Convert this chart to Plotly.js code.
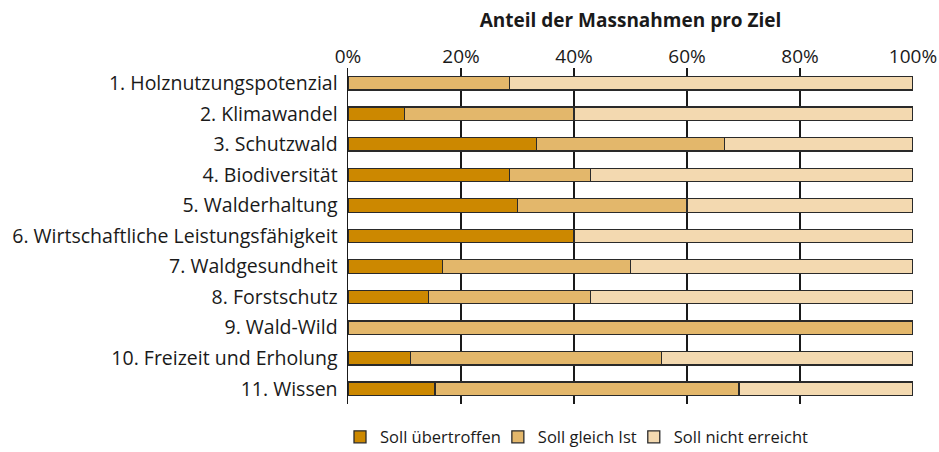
<!DOCTYPE html>
<html>
<head>
<meta charset="utf-8">
<script src="https://cdn.plot.ly/plotly-3.0.1.min.js"></script>
<style>html,body{margin:0;padding:0;background:#fff;}#chart{width:939px;height:452px;}</style>
</head>
<body>
<div id="chart"></div>
<script>
const categories = [
  "1. Holznutzungspotenzial",
  "2. Klimawandel",
  "3. Schutzwald",
  "4. Biodiversität",
  "5. Walderhaltung",
  "6. Wirtschaftliche Leistungsfähigkeit",
  "7. Waldgesundheit",
  "8. Forstschutz",
  "9. Wald-Wild",
  "10. Freizeit und Erholung",
  "11. Wissen"
];
const sollUebertroffen = [0, 10, 33.3, 28.6, 30, 40, 16.7, 14.3, 0, 11.1, 15.4];
const sollGleichIst    = [28.6, 30, 33.3, 14.3, 30, 0, 33.3, 28.6, 100, 44.4, 53.8];
const sollNichtErreicht= [71.4, 60, 33.4, 57.1, 40, 60, 50, 57.1, 0, 44.5, 30.8];
const seriesNames = ["Soll übertroffen", "Soll gleich Ist", "Soll nicht erreicht"];
const tickValues = [0, 20, 40, 60, 80, 100];
const tickLabels = ["0%", "20%", "40%", "60%", "80%", "100%"];
const colors = ["#CC8800", "#E3B76B", "#F3D9B0"];

const FONT = "Open Sans, sans-serif";
const seriesData = [sollUebertroffen, sollGleichIst, sollNichtErreicht];
const traces = seriesData.map((vals, i) => ({
  type: "bar",
  orientation: "h",
  name: seriesNames[i],
  y: categories,
  x: vals,
  marker: {color: colors[i], line: {color: "#2a2a2a", width: 1.3}},
  hoverinfo: "x+y+name"
}));

const layout = {
  width: 939, height: 452,
  margin: {l: 348, r: 26, t: 68, b: 48},
  paper_bgcolor: "#fff", plot_bgcolor: "#fff",
  font: {family: FONT, size: 19, color: "#1a1a1a"},
  title: {text: "<b>Anteil der Massnahmen pro Ziel</b>", x: 0.5, xref: "paper", xanchor: "center",
          y: 0.955, yref: "container", yanchor: "middle", font: {family: FONT, size: 19, color: "#1a1a1a"}},
  barmode: "stack",
  bargap: 0.56,
  showlegend: true,
  legend: {orientation: "h", x: 0, xanchor: "left", xref: "paper", y: 0.033, yref: "container", yanchor: "middle",
           indentation: -8,
           font: {family: FONT, size: 16.5, color: "#1a1a1a"}, traceorder: "normal"},
  xaxis: {side: "top", range: [0, 100], tickmode: "array", tickvals: tickValues, ticktext: tickLabels, showgrid: true,
          gridcolor: "#1a1a1a", gridwidth: 1.5, layer: "below traces", zeroline: false, showline: false, ticks: "",
          tickfont: {family: FONT, size: 19, color: "#1a1a1a"}, fixedrange: true},
  yaxis: {type: "category", autorange: "reversed", showline: true, linecolor: "#1a1a1a", linewidth: 1.5,
          ticks: "", showgrid: false, ticklabelstandoff: 5,
          tickfont: {family: FONT, size: 19.5, color: "#1a1a1a"}, fixedrange: true}
};

Plotly.newPlot("chart", traces, layout, {displayModeBar: false, staticPlot: true});
</script>
</body>
</html>
